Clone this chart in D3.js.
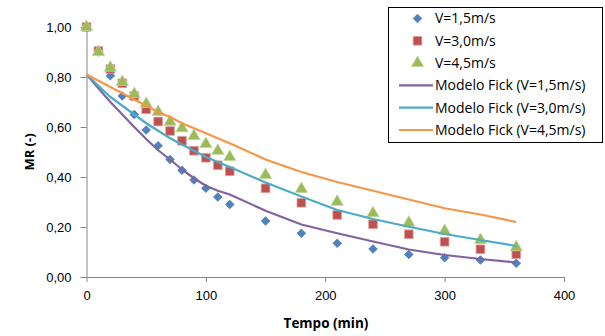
<!DOCTYPE html>
<html>
<head>
<meta charset="utf-8">
<script src="https://cdn.jsdelivr.net/npm/d3@7"></script>
<style>
  body { margin: 0; background: #fff; }
  svg { display: block; font-family: "Open Sans", "Liberation Sans", Arial, sans-serif; }
  .tick text { font-size: 13px; fill: #000; }
</style>
</head>
<body>
<svg width="605" height="336"></svg>
<script>
var tempo = [0, 10, 20, 30, 40, 50, 60, 70, 80, 90, 100, 110, 120, 150, 180, 210, 240, 270, 300, 330, 360];

var mr15 = [1.00, 0.90, 0.805, 0.724, 0.65, 0.588, 0.525, 0.47, 0.427, 0.388, 0.355, 0.32, 0.29, 0.224, 0.175, 0.135, 0.112, 0.09, 0.077, 0.068, 0.055];
var mr30 = [1.00, 0.904, 0.832, 0.775, 0.724, 0.671, 0.622, 0.584, 0.545, 0.505, 0.477, 0.447, 0.423, 0.355, 0.297, 0.248, 0.211, 0.171, 0.141, 0.111, 0.091];
var mr45 = [1.00, 0.90, 0.837, 0.78, 0.732, 0.692, 0.66, 0.621, 0.595, 0.564, 0.532, 0.505, 0.48, 0.408, 0.352, 0.301, 0.255, 0.217, 0.184, 0.148, 0.119];

var fick15 = [0.81, 0.755, 0.70, 0.65, 0.60, 0.552, 0.507, 0.47, 0.43, 0.395, 0.365, 0.345, 0.33, 0.265, 0.21, 0.175, 0.142, 0.11, 0.088, 0.072, 0.058];
var fick30 = [0.81, 0.765, 0.72, 0.685, 0.65, 0.615, 0.585, 0.555, 0.53, 0.505, 0.48, 0.46, 0.44, 0.378, 0.322, 0.268, 0.232, 0.201, 0.172, 0.148, 0.124];
var fick45 = [0.81, 0.785, 0.76, 0.735, 0.71, 0.685, 0.66, 0.64, 0.615, 0.595, 0.575, 0.555, 0.535, 0.47, 0.42, 0.38, 0.345, 0.31, 0.275, 0.25, 0.22];

var xTicks = [0, 100, 200, 300, 400];
var yTicks = [0, 0.2, 0.4, 0.6, 0.8, 1.0];

var svg = d3.select("svg");

var x = d3.scaleLinear().domain([0, 400]).range([86.5, 564]);
var y = d3.scaleLinear().domain([0, 1]).range([277, 27]);

var fmt = function (d) { return d3.format(".2f")(d).replace(".", ","); };

// axes
var xAxis = svg.append("g")
    .attr("transform", "translate(0," + y(0) + ")")
    .call(d3.axisBottom(x).tickValues(xTicks).tickSize(5).tickSizeOuter(0).tickPadding(9));
var yAxis = svg.append("g")
    .attr("transform", "translate(" + x(0) + ",0)")
    .call(d3.axisLeft(y).tickValues(yTicks).tickFormat(fmt).tickSize(6).tickSizeOuter(0).tickPadding(9));

svg.selectAll(".domain, .tick line").attr("stroke", "#868686");
yAxis.selectAll(".tick text").attr("dy", "0.35em");

svg.append("text")
    .attr("transform", "translate(34,152) rotate(-90)")
    .attr("text-anchor", "middle")
    .attr("font-weight", "bold")
    .attr("font-size", 13)
    .text("MR (-)");

svg.append("text")
    .attr("x", 326)
    .attr("y", 328)
    .attr("text-anchor", "middle")
    .attr("font-weight", "bold")
    .attr("font-size", 13.5)
    .text("Tempo (min)");

var pts = function (vals) {
    return tempo.map(function (t, i) { return { t: t, v: vals[i] }; });
};

// Excel style diamond: a square turned by 45 degrees
var symDiamond = function () {
    var r = 4.3;
    return "M0," + (-r) + "L" + r + ",0L0," + r + "L" + (-r) + ",0Z";
};
var symSquare = d3.symbol().type(d3.symbolSquare).size(76);
var symTriangle = d3.symbol().type(d3.symbolTriangle).size(64);

var markers = [
    { data: mr15, sym: symDiamond, color: "#4F81BD", stroke: "#4A7AB3" },
    { data: mr30, sym: symSquare, color: "#C0504D", stroke: "#D9A3A1" },
    { data: mr45, sym: symTriangle, color: "#9BBB59", stroke: "#C3D69B" }
];

markers.forEach(function (m) {
    svg.append("g").selectAll("path")
        .data(pts(m.data))
        .enter().append("path")
        .attr("d", m.sym)
        .attr("fill", m.color)
        .attr("stroke", m.stroke)
        .attr("stroke-width", 0.8)
        .attr("transform", function (d) {
            return "translate(" + x(d.t) + "," + y(d.v) + ")";
        });
});

var line = d3.line()
    .x(function (d) { return x(d.t); })
    .y(function (d) { return y(d.v); });

var models = [
    { data: fick15, color: "#8064A2" },
    { data: fick30, color: "#4BACC6" },
    { data: fick45, color: "#F79646" }
];

models.forEach(function (m) {
    svg.append("path")
        .datum(pts(m.data))
        .attr("fill", "none")
        .attr("stroke", m.color)
        .attr("stroke-width", 2.2)
        .attr("d", line);
});

// legend
var legendNames = ["V=1,5m/s", "V=3,0m/s", "V=4,5m/s",
    "Modelo Fick (V=1,5m/s)", "Modelo Fick (V=3,0m/s)", "Modelo Fick (V=4,5m/s)"];

svg.append("rect")
    .attr("x", 388.5).attr("y", 7.5)
    .attr("width", 214).attr("height", 135)
    .attr("fill", "#fff")
    .attr("stroke", "#000")
    .attr("stroke-width", 1);

var leg = svg.append("g").selectAll("g")
    .data(legendNames)
    .enter().append("g")
    .attr("transform", function (d, i) { return "translate(0," + (18.5 + i * 22.3) + ")"; });

leg.each(function (d, i) {
    var g = d3.select(this);
    if (i < 3) {
        var m = markers[i];
        g.append("path")
            .attr("d", m.sym)
            .attr("fill", m.color)
            .attr("stroke", m.stroke)
            .attr("stroke-width", 0.8)
            .attr("transform", "translate(417.5,0)");
    } else {
        g.append("line")
            .attr("x1", 399).attr("x2", 433)
            .attr("stroke", models[i - 3].color)
            .attr("stroke-width", 2.2);
    }
    g.append("text")
        .attr("x", 435)
        .attr("dy", "0.35em")
        .attr("font-size", 14)
        .text(d);
});
</script>
</body>
</html>
